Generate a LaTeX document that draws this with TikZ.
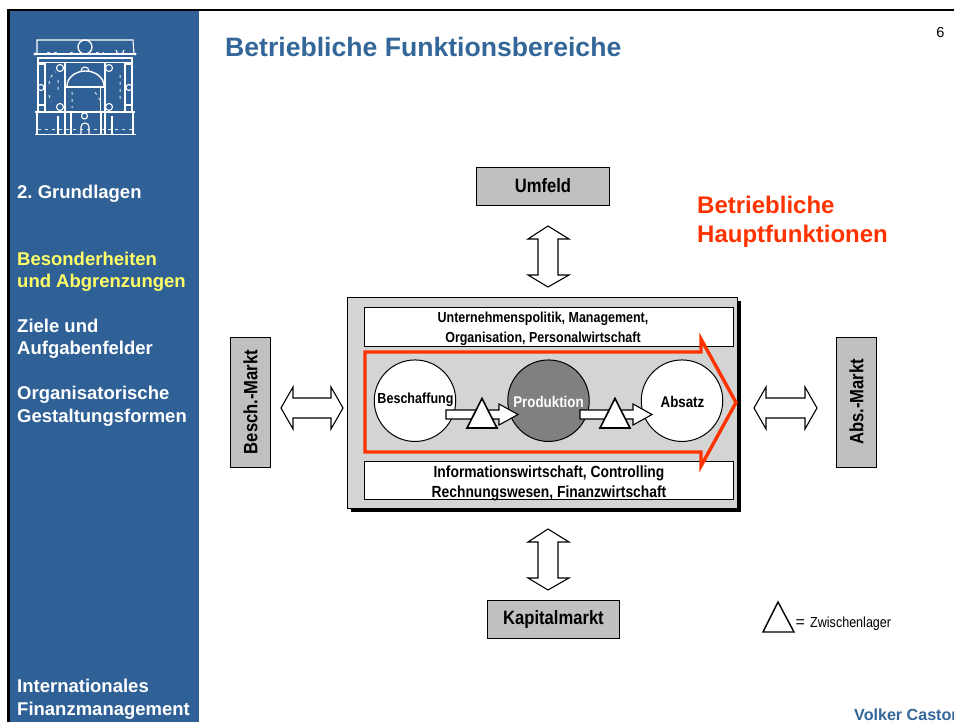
\documentclass[tikz,border=0pt]{standalone}
\usepackage{fontspec}
\setmainfont{Liberation Sans}
\newfontfamily\cond[FakeStretch=0.86]{Liberation Sans}
\frenchspacing
\definecolor{side}{HTML}{2F6096}
\definecolor{titleblue}{HTML}{336699}
\definecolor{boxgrey}{HTML}{C0C0C0}
\definecolor{panelgrey}{HTML}{D4D4D4}
\definecolor{redor}{HTML}{FF3300}
\definecolor{yel}{HTML}{FFFF66}
\definecolor{darkc}{HTML}{808080}
\tikzset{
 x=1pt,y=-1pt,
 sidetext/.style={anchor=base west,inner sep=0pt,text=white,font=\fontsize{18.5}{18.5}\selectfont\bfseries},
 sideyellow/.style={sidetext,text=yel},
 marketbox/.style={draw=black,line width=1pt,fill=boxgrey,inner sep=0pt},
 boxlabel/.style={inner sep=0pt,font=\cond\fontsize{19.3}{19.3}\selectfont\bfseries},
 whitebox/.style={draw=black,line width=1pt,fill=white},
 smalltext/.style={inner sep=0pt,anchor=base,font=\cond\fontsize{14.5}{14.5}\selectfont\bfseries},
 circ/.style={circle,draw=black,line width=1pt,fill=white,minimum size=81.5pt,inner sep=0pt},
 blockarrow/.style={draw=black,line width=1.1pt,fill=white,line join=miter},
 tri/.style={draw=black,line width=1.6pt,fill=white,line join=miter},
 logo/.style={draw=white,line width=1.1pt},
 logod/.style={draw=white!85!side,line width=1pt,dash pattern=on 3pt off 4pt},
}
\begin{document}
\begin{tikzpicture}
\useasboundingbox (0,0) rectangle (954,722);
\clip (0,0) rectangle (954,722);
\fill[white] (0,0) rectangle (954,722);
% frame and sidebar
\fill[black] (7,9) rectangle (954,11.5);
\fill[black] (7,9) rectangle (9.5,722);
\fill[side] (9.5,11.5) rectangle (199,722);
% logo: entablature
\draw[logo] (37,54) -- (37,40) -- (133,40) -- (134,54);
\draw[logo] (35,54) -- (135,54);
\draw[logo] (37,58) -- (133,58);
\draw[logo,line width=.8pt] (37,62) -- (133,62);
\draw[logo,line width=1.3pt] (85,47) circle[radius=7];
\draw[logod] (47,52.5) -- (60,52.5) (70,52.5) -- (76,52.5) (96,52.5) -- (104,52.5);
\draw[logo] (116,50) arc[start angle=180,end angle=0,radius=4];
\fill[white] (35,54) circle[radius=1.6] (135,54) circle[radius=1.6] (47,58.5) circle[radius=1] (66,58.5) circle[radius=1] (85,58.5) circle[radius=1] (104,58.5) circle[radius=1] (123,58.5) circle[radius=1];
% logo: outer columns
\draw[logo] (38,58) -- (38,111) (132,58) -- (132,111);
\draw[logo] (45,62) -- (45,111) (125,62) -- (125,111);
% logo: main piers
\draw[logo,line width=1.4pt] (65,62) -- (65,134) (105,62) -- (105,134);
\draw[logo,line width=1.4pt] (66,87) -- (105,87);
\draw[logo,line width=1pt] (100,87) -- (100,111);
\draw[logo,line width=1.4pt] (67,86) arc[start angle=180,end angle=360,x radius=18.5,y radius=15];
\draw[logo] (81,71) arc[start angle=180,end angle=360,radius=4];
\draw[logo] (60,68) circle[radius=3.5] (109,68) circle[radius=3.5];
\draw[logo] (60,107) circle[radius=3.5] (109,107) circle[radius=3.5];
\draw[logo] (41,87.5) circle[radius=3] (129,87.5) circle[radius=3];
\draw[logo] (38,105) -- (45,105) (125,105) -- (132,105) (38,64) -- (45,64) (125,64) -- (132,64);
\draw[logod] (49,84) arc[start angle=180,end angle=240,radius=14] (58,80) -- (58,92);
\draw[logod] (120,75) -- (120,100) (49,95) -- (51,102) (72,92) -- (72,108) (95,92) -- (100,100);
% logo: base
\draw[logo] (35,112) -- (135,112);
\draw[logo] (37,112) -- (37,134) (133,112) -- (133,134);
\draw[logod] (38,130) -- (132,130);
\draw[logo,line width=1.4pt] (35,134.5) -- (136,134.5);
\draw[logo] (84.5,116) circle[radius=3];
\draw[logo] (81,134) -- (81,127) arc[start angle=180,end angle=360,radius=4] -- (89,134);
\draw[logo] (58,116) -- (58,134) (71,112) -- (71,134) (101,112) -- (101,134) (112,116) -- (112,134);
% sidebar text
\node[sidetext] (s1) at (17,199) {2. Grundlagen};
\node[sideyellow] (s2) at (17,266) {Besonderheiten};
\node[sideyellow] (s3) at (17,288) {und Abgrenzungen};
\node[sidetext] (s4) at (17,332.5) {Ziele und};
\node[sidetext] (s5) at (17,355) {Aufgabenfelder};
\node[sidetext] (s6) at (17,399.5) {Organisatorische};
\node[sidetext] (s7) at (17,422) {Gestaltungsformen};
\node[sidetext] (s8) at (17,692.5) {Internationales};
\node[sidetext] (s9) at (17,715) {Finanzmanagement};
% head
\node[anchor=base west,inner sep=0pt,text=titleblue,font=\fontsize{26.6}{26.6}\selectfont\bfseries] (title) at (225,56.5) {Betriebliche Funktionsbereiche};
\node[anchor=base,inner sep=0pt,font=\fontsize{14.5}{14.5}\selectfont] (page) at (940.5,38) {6};
\node[anchor=base west,inner sep=0pt,text=redor,font=\fontsize{24}{24}\selectfont\bfseries] (r1) at (697,214) {Betriebliche};
\node[anchor=base west,inner sep=0pt,text=redor,font=\fontsize{24}{24}\selectfont\bfseries] (r2) at (697,243) {Hauptfunktionen};
% market boxes
\node[marketbox,minimum width=133pt,minimum height=38pt] (umfeld) at (543,186.5) {};
\node[boxlabel] (umfeldt) at (543,186) {Umfeld};
\node[marketbox,minimum width=132pt,minimum height=38pt] (kapital) at (553.5,619.5) {};
\node[boxlabel] (kapitalt) at (553.5,619.5) {Kapitalmarkt};
\node[marketbox,minimum width=40pt,minimum height=130pt] (besch) at (250.5,402.5) {};
\node[boxlabel,rotate=90] (bescht) at (250.5,402) {Besch.-Markt};
\node[marketbox,minimum width=40pt,minimum height=130pt] (abs) at (856.5,402.5) {};
\node[boxlabel,rotate=90] (abst) at (856.5,402) {Abs.-Markt};
% double arrows
\draw[blockarrow] (548,226) -- (569,239) -- (558,239) -- (558,275) -- (569,275) -- (548,287) -- (528,275) -- (538,275) -- (538,239) -- (528,239) -- cycle;
\draw[blockarrow] (548,529) -- (569,542) -- (558,542) -- (558,578) -- (569,578) -- (548,590) -- (528,578) -- (538,578) -- (538,542) -- (528,542) -- cycle;
\draw[blockarrow] (281,408) -- (293,387) -- (293,398) -- (331,398) -- (331,387) -- (343,408) -- (331,429) -- (331,418) -- (293,418) -- (293,429) -- cycle;
\draw[blockarrow] (754,408) -- (766,387) -- (766,398) -- (805,398) -- (805,387) -- (817,408) -- (805,429) -- (805,418) -- (766,418) -- (766,429) -- cycle;
% central panel
\fill[black] (351,301) rectangle (741,512);
\draw[draw=black,line width=1pt,fill=panelgrey] (347.5,297.5) rectangle (737.5,508);
\node[whitebox,minimum width=369pt,minimum height=39.5pt,inner sep=0pt] (top) at (548.5,327) {};
\node[whitebox,minimum width=369pt,minimum height=38.5pt,inner sep=0pt] (bot) at (548.5,480.5) {};
\node[smalltext] (t1) at (543,322.5) {Unternehmenspolitik, Management,};
\node[smalltext] (t2) at (543,342) {Organisation, Personalwirtschaft};
\node[smalltext,font=\cond\fontsize{16.1}{16.1}\selectfont\bfseries] (b1) at (549,477) {Informationswirtschaft, Controlling};
\node[smalltext,font=\cond\fontsize{16.1}{16.1}\selectfont\bfseries] (b2) at (549,497) {Rechnungswesen, Finanzwirtschaft};
% red process arrow
\draw[draw=redor,fill=panelgrey,line width=3.4pt,line join=miter] (365,352) -- (701,352) -- (701,339) -- (736,402.5) -- (701,466) -- (701,452) -- (365,452) -- cycle;
% circles
\node[circ] (beschaff) at (415,400.7) {};
\node[circ,fill=darkc] (prod) at (548.5,400.7) {};
\node[circ] (absatz) at (682,400.7) {};
% inner flow arrows
\draw[blockarrow] (446,410) -- (499,410) -- (499,404) -- (518,414.5) -- (499,425) -- (499,419) -- (446,419) -- cycle;
\draw[blockarrow] (580,410) -- (633,410) -- (633,404) -- (652,414.5) -- (633,425) -- (633,419) -- (580,419) -- cycle;
\draw[tri] (482,398.5) -- (497,428) -- (467,428) -- cycle;
\draw[tri] (615,398.5) -- (630,428) -- (600,428) -- cycle;
\node[boxlabel,font=\cond\fontsize{14.6}{14.6}\selectfont\bfseries] (lb) at (415.5,400) {Beschaffung};
\node[boxlabel,text=white,font=\cond\fontsize{15.5}{15.5}\selectfont\bfseries] (lp) at (548.5,401.5) {Produktion};
\node[boxlabel,font=\cond\fontsize{15.5}{15.5}\selectfont\bfseries] (la) at (682.5,401.5) {Absatz};
% legend
\draw[draw=black,line width=1.4pt,line join=miter] (778,602) -- (794,632) -- (763,632) -- cycle;
\node[anchor=base west,inner sep=0pt,font=\fontsize{16}{16}\selectfont] (eq) at (795.5,627) {=};
\node[anchor=base west,inner sep=0pt,font=\cond\fontsize{14.6}{14.6}\selectfont] (zw) at (810,627) {Zwischenlager};
% footer
\node[anchor=base west,inner sep=0pt,text=titleblue,font=\fontsize{16.1}{16.1}\selectfont\bfseries] (vc) at (854,720) {Volker Castor};
\end{tikzpicture}
\end{document}
